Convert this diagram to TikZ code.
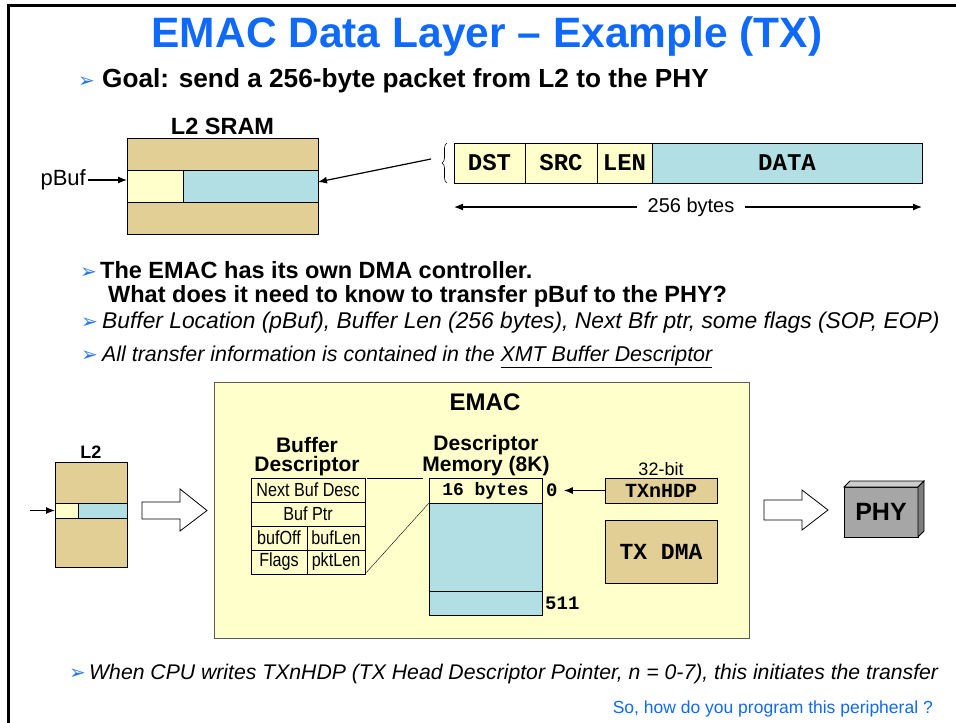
\documentclass[tikz,border=0pt]{standalone}
\usepackage{fontspec}
\setmainfont{Liberation Sans}
\newfontfamily\monofont{Liberation Mono}
\newfontfamily\dingfont{DejaVu Sans}
\newfontfamily\narrowfont[FakeStretch=0.85]{Liberation Sans}
\usetikzlibrary{positioning,arrows.meta,decorations.pathreplacing}

\definecolor{titleblue}{RGB}{15,105,250}
\definecolor{bulletblue}{RGB}{40,120,235}
\definecolor{memtan}{RGB}{226,207,150}
\definecolor{paleyel}{RGB}{255,255,204}
\definecolor{pktblue}{RGB}{178,223,228}
\definecolor{emacline}{RGB}{90,90,90}
\definecolor{phyfront}{RGB}{166,166,166}
\definecolor{phytop}{RGB}{205,205,205}
\definecolor{physide}{RGB}{125,125,125}

\newcommand{\fs}[1]{\fontsize{#1}{#1}\selectfont}
\newcommand{\bul}{{\dingfont\fs{20}\color{bulletblue}\raisebox{0pt}{➢}}}

\tikzset{
  cell/.style={draw, inner sep=0pt, outer sep=0pt, line width=0.8pt, anchor=north west},
  pktfield/.style={cell, minimum height=40, font=\monofont\bfseries\fs{24}},
  descfield/.style={cell, minimum height=24, font=\narrowfont\fs{19}},
  bulltext/.style={anchor=base west, inner sep=0pt},
  boxtitle/.style={inner sep=0pt, font=\bfseries\fontsize{21}{19}\selectfont},
  blockarrow/.style={draw, fill=white, line width=0.8pt},
  ptr/.style={->, line width=1.2pt},
  >={Latex[length=9pt,width=7pt]}
}

\begin{document}
\begin{tikzpicture}[x=1pt,y=-1pt]
  \useasboundingbox (0,0) rectangle (956,723);

  % slide frame
  \draw[line width=3pt] (8,723) -- (8,5) -- (956,5);

  % title
  \node[anchor=base, inner sep=0pt, font=\bfseries\fs{42.5}, text=titleblue] (title) at (487,47) {EMAC Data Layer – Example (TX)};

  % goal
  \node[bulltext] (b1) at (78,87) {\bul};
  \node[bulltext, font=\bfseries\fs{26.2}] (goal) at (102,87) {Goal: send a 256-byte packet from L2 to the PHY};

  % L2 SRAM
  \node[cell, fill=memtan, minimum width=191, minimum height=32] (sramtop) at (127,138) {};
  \node[cell, fill=paleyel, minimum width=56, minimum height=32] (sramy) at (127,170) {};
  \node[cell, fill=pktblue, minimum width=135, minimum height=32] (sramb) at (183,170) {};
  \node[cell, fill=memtan, minimum width=191, minimum height=32] (srambot) at (127,202) {};
  \node[above=3pt of sramtop, boxtitle, font=\bfseries\fs{23.5}] (sramlab) {L2 SRAM};
  \node[anchor=east, inner sep=0pt, font=\fs{22}] (pbuf) at (86,180) {pBuf};
  \draw[ptr, shorten <=2pt] (pbuf.east) -- (pbuf.east -| sramy.west);

  % packet
  \node[pktfield, fill=paleyel, minimum width=71] (dst) at (454,143) {DST};
  \node[pktfield, fill=paleyel, minimum width=72] (src) at (525,143) {SRC};
  \node[pktfield, fill=paleyel, minimum width=55] (len) at (597,143) {LEN};
  \node[pktfield, fill=pktblue, minimum width=270] (data) at (652,143) {DATA};
  \draw[decorate, decoration={brace, amplitude=5pt}, line width=0.6pt] ([xshift=-7pt]dst.south west) -- ([xshift=-7pt]dst.north west);
  \coordinate (bracetip) at (431,159);
  \draw[ptr] (bracetip) -- ([yshift=4pt]sramb.east);

  % 256 bytes
  \node[inner sep=0pt, font=\fs{20}] (bytes) at (691,207) {256 bytes};
  \draw[ptr] ([xshift=-10pt]bytes.west) -- (bytes.west -| dst.west);
  \draw[ptr] ([xshift=10pt]bytes.east) -- (bytes.east -| data.east);

  % questions
  \node[bulltext] (b2) at (80,278) {\bul};
  \node[bulltext, font=\bfseries\fs{23.5}] (dmaq1) at (100,278) {The EMAC has its own DMA controller.};
  \node[bulltext, font=\bfseries\fs{23.5}] (dmaq2) at (108,302) {What does it need to know to transfer pBuf to the PHY?};
  \node[bulltext] (b3) at (81,328) {\bul};
  \node[bulltext, font=\itshape\fs{22.8}] (need) at (102,328) {Buffer Location (pBuf), Buffer Len (256 bytes), Next Bfr ptr, some flags (SOP, EOP)};
  \node[bulltext] (b4) at (81,361) {\bul};
  \node[bulltext, font=\itshape\fs{21.4}] (xmt) at (102,361) {All transfer information is contained in the \underline{XMT Buffer Descriptor}};

  % L2
  \node[cell, fill=memtan, minimum width=72, minimum height=41] (l2top) at (55,462) {};
  \node[cell, fill=paleyel, minimum width=23, minimum height=15] (l2y) at (55,503) {};
  \node[cell, fill=pktblue, minimum width=49, minimum height=15] (l2b) at (78,503) {};
  \node[cell, fill=memtan, minimum width=72, minimum height=49] (l2bot) at (55,518) {};
  \node[above=3pt of l2top, boxtitle, font=\bfseries\fs{18}] (l2lab) {L2};
  \coordinate (l2in) at (30,510.5);
  \draw[ptr] (l2in) -- (l2y.west);

  % into EMAC
  \draw[blockarrow] (142,502) -- (180,502) -- (180,489) -- (207,510.5) -- (180,531) -- (180,519) -- (142,519) -- cycle;

  % EMAC
  \node[cell, fill=paleyel, draw=emacline, minimum width=535, minimum height=256] (emac) at (214,382) {};
  \node[anchor=base, inner sep=0pt, font=\bfseries\fs{24}] (emaclab) at (485,410) {EMAC};

  % buffer descriptor
  \node[boxtitle, anchor=south, align=center] (bdlab) at (307,476) {Buffer\\Descriptor};
  \node[descfield, minimum width=114] (nbd) at (251,478) {Next Buf Desc};
  \node[descfield, minimum width=114] (bptr) at (251,502) {Buf Ptr};
  \node[descfield, minimum width=56] (boff) at (251,526) {bufOff};
  \node[descfield, minimum width=58] (blen) at (307,526) {bufLen};
  \node[descfield, minimum width=56] (flags) at (251,550) {Flags};
  \node[descfield, minimum width=58] (plen) at (307,550) {pktLen};

  % descriptor memory
  \node[boxtitle, anchor=south, align=center] (dmlab) at (486,476) {Descriptor\\Memory (8K)};
  \node[cell, fill=paleyel, minimum width=113, minimum height=25, font=\monofont\bfseries\fs{18}] (slot0) at (429,478) {16 bytes};
  \node[cell, fill=pktblue, minimum width=113, minimum height=88] (slots) at (429,503) {};
  \node[cell, fill=pktblue, minimum width=113, minimum height=24] (slotlast) at (429,591) {};
  \node[right=4pt of slot0, inner sep=0pt, font=\monofont\bfseries\fs{19}] (idx0) {0};
  \node[right=3pt of slotlast, inner sep=0pt, font=\monofont\bfseries\fs{19}] (idxlast) {511};
  \draw[shorten <=2pt, shorten >=6pt] (nbd.north east) -- (slot0.north west);
  \draw[shorten <=2pt] (plen.south east) -- (slot0.south west);

  % head pointer and dma
  \node[cell, fill=memtan, minimum width=112, minimum height=25, font=\monofont\bfseries\fs{20}] (hdp) at (605,478) {TXnHDP};
  \node[above=2pt of hdp, inner sep=0pt, font=\fs{18}] (hdpw) {32-bit};
  \draw[ptr, shorten >=6pt] (hdp.west) -- (idx0.east);
  \node[cell, fill=memtan, minimum width=112, minimum height=63, font=\monofont\bfseries\fs{23}] (txdma) at (605,520) {TX DMA};

  % out to PHY
  \draw[blockarrow] (764,500) -- (802,500) -- (802,490) -- (828,510) -- (802,530) -- (802,520) -- (764,520) -- cycle;

  % PHY
  \node[cell, fill=phyfront, minimum width=74, minimum height=50, font=\bfseries\fs{25}] (phy) at (844,487) {PHY};
  \draw[fill=phytop, line width=0.8pt] (phy.north west) -- ++(6,-6) -- ++(74,0) -- (phy.north east) -- cycle;
  \draw[fill=physide, line width=0.8pt] (phy.north east) -- ++(6,-6) -- ++(0,50) -- (phy.south east) -- cycle;

  % start of transfer
  \node[bulltext] (b5) at (69,679) {\bul};
  \node[bulltext, font=\itshape\fs{21.2}] (hdpnote) at (89,679) {When CPU writes TXnHDP (TX Head Descriptor Pointer, n = 0-7), this initiates the transfer};
  \node[anchor=base east, inner sep=0pt, font=\fs{17.5}, text=titleblue] (next) at (933,713) {So, how do you program this peripheral ?};

\end{tikzpicture}
\end{document}
